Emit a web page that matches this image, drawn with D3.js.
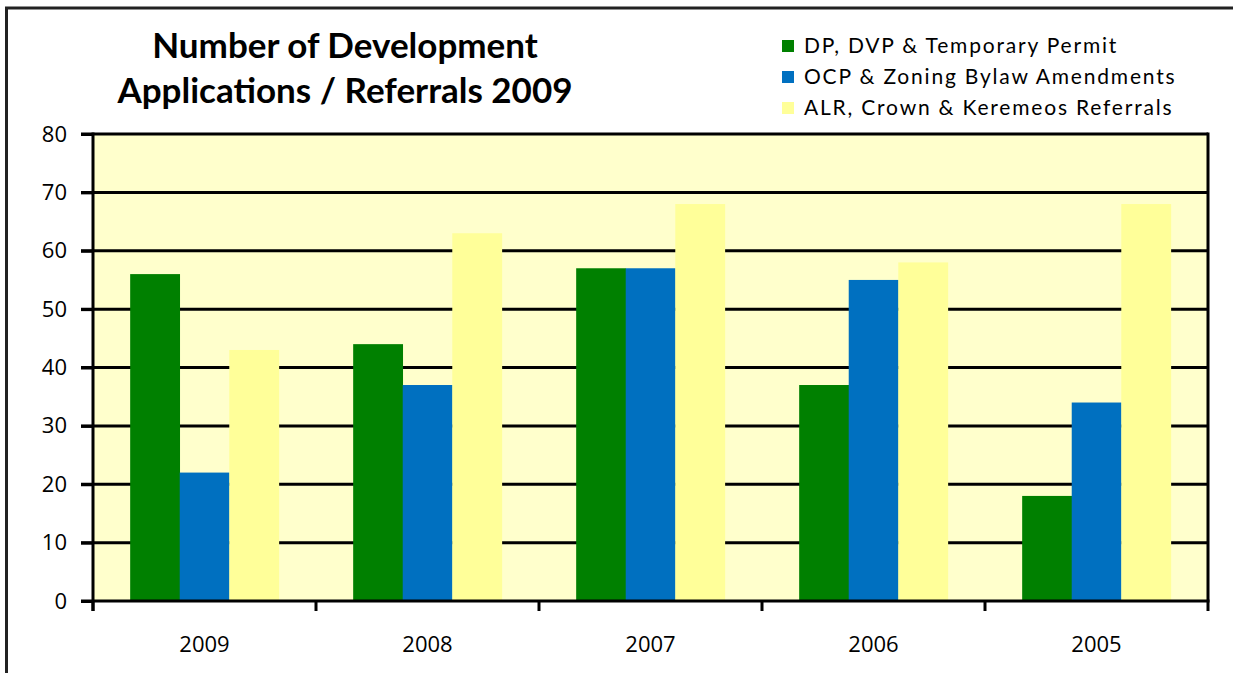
<!DOCTYPE html>
<html>
<head>
<meta charset="utf-8">
<script src="https://cdn.jsdelivr.net/npm/d3@7"></script>
<style>
  body { margin: 0; background: #fff; }
  text { font-family: "Open Sans", sans-serif; fill: #000; }
</style>
</head>
<body>
<script>
var width = 1233,
    height = 673;

var years = ["2009", "2008", "2007", "2006", "2005"];
var seriesNames = ["DP, DVP & Temporary Permit", "OCP & Zoning Bylaw Amendments", "ALR, Crown & Keremeos Referrals"];
var seriesColors = ["#008000", "#0070C0", "#FFFF99"];
var permits = [56, 44, 57, 37, 18];
var amendments = [22, 37, 57, 55, 34];
var referrals = [43, 63, 68, 58, 68];
var yTicks = [0, 10, 20, 30, 40, 50, 60, 70, 80];

var series = [permits, amendments, referrals];

var plot = {left: 93, right: 1208, top: 134, bottom: 601};

var svg = d3.select("body")
    .append("svg")
    .attr("width", width)
    .attr("height", height);

// outer chart border (only top & left visible)
svg.append("path")
    .attr("d", "M6.5,673 L6.5,8 L1233,8")
    .attr("fill", "none")
    .attr("stroke", "#222")
    .attr("stroke-width", 3);

var x0 = d3.scaleBand()
    .domain(years)
    .range([plot.left, plot.right]);

// Excel-like gap width 150%
var barW = x0.bandwidth() / 4.5;

var y = d3.scaleLinear()
    .domain([0, 80])
    .range([plot.bottom, plot.top]);

svg.append("rect")
    .attr("x", plot.left)
    .attr("y", plot.top)
    .attr("width", plot.right - plot.left)
    .attr("height", plot.bottom - plot.top)
    .attr("fill", "#FFFFCC");

// gridlines
svg.append("g").selectAll("line")
    .data(yTicks.slice(1))
    .enter().append("line")
    .attr("x1", plot.left - 12)
    .attr("x2", plot.right)
    .attr("y1", function(d) { return y(d); })
    .attr("y2", function(d) { return y(d); })
    .attr("stroke", "#000")
    .attr("stroke-width", 3);

// bars
series.forEach(function(vals, s) {
    svg.append("g").selectAll("rect")
        .data(vals)
        .enter().append("rect")
        .attr("x", function(d, i) { return x0(years[i]) + barW * 0.75 + s * barW; })
        .attr("y", function(d) { return y(d); })
        .attr("width", barW + 0.3)
        .attr("height", function(d) { return y(0) - y(d); })
        .attr("fill", seriesColors[s]);
});

// right border of plot
svg.append("line")
    .attr("x1", plot.right).attr("x2", plot.right)
    .attr("y1", plot.top - 1.5).attr("y2", plot.bottom)
    .attr("stroke", "#000").attr("stroke-width", 3);

// y axis
var yAxis = svg.append("g")
    .attr("transform", "translate(" + plot.left + ",0)")
    .call(d3.axisLeft(y).tickValues(yTicks).tickSize(12).tickPadding(14));
yAxis.select(".domain").remove();
yAxis.append("line")
    .attr("x1", 0).attr("x2", 0)
    .attr("y1", plot.top - 1.5).attr("y2", plot.bottom + 10)
    .attr("stroke", "#000").attr("stroke-width", 3);
yAxis.selectAll(".tick line").attr("stroke", "#000").attr("stroke-width", 3);
yAxis.selectAll("text")
    .style("font-family", "'Open Sans', sans-serif")
    .attr("font-size", 22)
    .attr("fill", "#000");

// x axis
var xAxis = svg.append("g")
    .attr("transform", "translate(0," + plot.bottom + ")")
    .call(d3.axisBottom(x0).tickSize(0).tickPadding(35));
xAxis.select(".domain").remove();
xAxis.append("line")
    .attr("x1", plot.left - 12).attr("x2", plot.right + 1.5)
    .attr("y1", 0).attr("y2", 0)
    .attr("stroke", "#000").attr("stroke-width", 3);
xAxis.selectAll("text")
    .style("font-family", "'Open Sans', sans-serif")
    .attr("font-size", 22)
    .attr("fill", "#000");
xAxis.append("g").selectAll("line")
    .data(years.concat([null]))
    .enter().append("line")
    .attr("x1", function(d) { return d === null ? plot.right : x0(d); })
    .attr("x2", function(d) { return d === null ? plot.right : x0(d); })
    .attr("y1", 0).attr("y2", 10)
    .attr("stroke", "#000").attr("stroke-width", 3);

// title
var title = svg.append("text")
    .attr("text-anchor", "middle")
    .attr("font-size", 35)
    .attr("font-weight", "bold")
    .style("font-family", "Lato, sans-serif");
title.append("tspan").attr("x", 345).attr("y", 58).text("Number of Development");
title.append("tspan").attr("x", 345).attr("y", 103).text("Applications / Referrals 2009");

// legend
var legend = svg.append("g").selectAll("g")
    .data(seriesNames)
    .enter().append("g")
    .attr("transform", function(d, i) { return "translate(782," + (46 + i * 31) + ")"; });
legend.append("rect")
    .attr("x", 0).attr("y", -6)
    .attr("width", 12).attr("height", 12)
    .attr("fill", function(d, i) { return seriesColors[i]; });
legend.append("text")
    .attr("x", 22)
    .attr("dy", "0.35em")
    .attr("font-size", 21)
    .style("font-family", "Lato, sans-serif")
    .style("letter-spacing", "1.8px")
    .text(function(d) { return d; });
</script>
</body>
</html>
